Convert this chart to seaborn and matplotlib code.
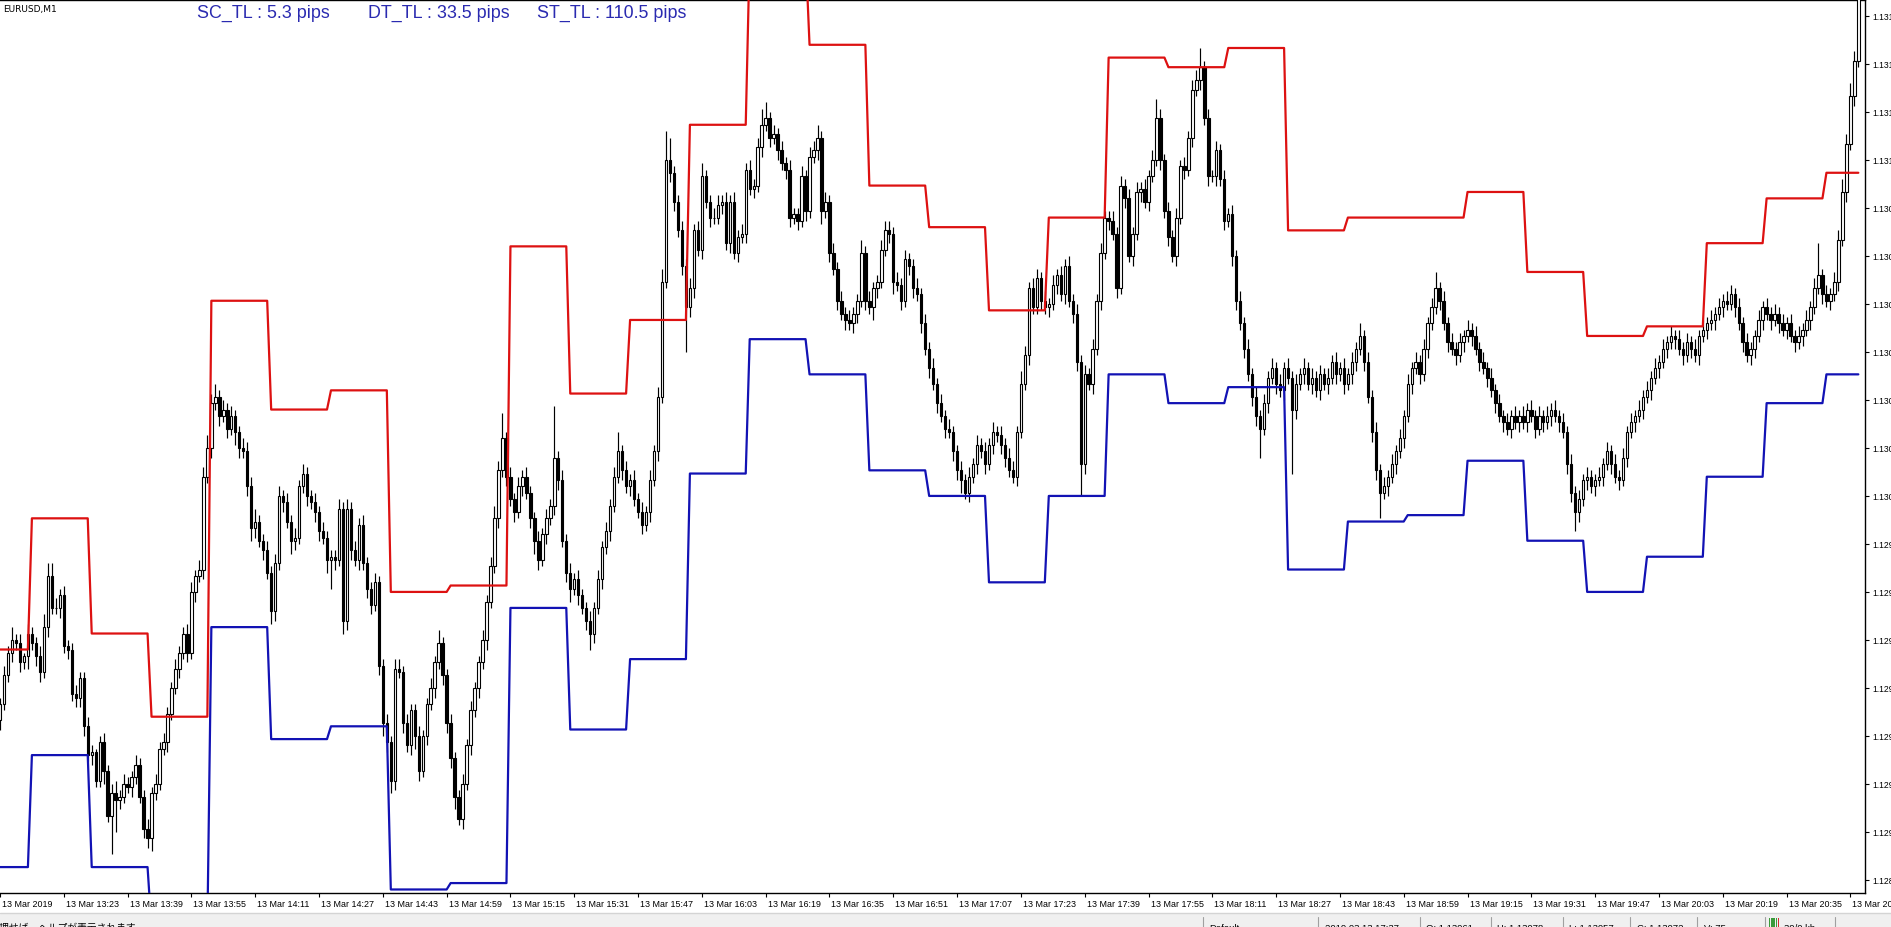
import numpy as np
import pandas as pd
import matplotlib
matplotlib.use("Agg")
import matplotlib.pyplot as plt
import seaborn as sns
from matplotlib.patches import Rectangle
from matplotlib.lines import Line2D
from matplotlib.transforms import ScaledTranslation

W, H = 1891, 928

# EURUSD M1, 13 Mar 2019 from 13:07, one candle per minute
# prices kept in points above base (1 point = 0.00001)
base = 1.12800
first_open = 135
close_pts = [
    140, 149, 156, 160, 159, 153, 155, 162, 159, 155, 150, 164, 180, 170, 170, 174, 158, 157, 143, 142,
    148, 133, 124, 125, 116, 128, 119, 105, 112, 110, 111, 115, 114, 117, 121, 111, 101, 98, 112, 115,
    126, 128, 137, 145, 151, 156, 162, 156, 175, 180, 182, 211, 220, 234, 236, 230, 232, 226, 230, 225,
    220, 219, 208, 195, 197, 191, 188, 181, 169, 184, 205, 203, 197, 191, 192, 208, 212, 205, 203, 200,
    194, 192, 185, 186, 185, 201, 166, 201, 188, 185, 196, 184, 176, 171, 178, 152, 134, 128, 116, 151,
    150, 134, 127, 138, 130, 119, 130, 140, 145, 153, 159, 149, 134, 123, 111, 104, 115, 127, 138, 145,
    153, 160, 172, 183, 198, 213, 223, 211, 204, 200, 208, 211, 206, 198, 191, 185, 193, 198, 202, 217,
    210, 191, 181, 176, 179, 174, 170, 166, 162, 170, 179, 189, 194, 202, 211, 219, 213, 208, 210, 204,
    200, 196, 200, 210, 219, 236, 272, 310, 306, 297, 288, 277, 264, 270, 288, 282, 305, 297, 292, 292,
    296, 297, 284, 297, 281, 286, 287, 307, 301, 302, 314, 321, 323, 317, 318, 313, 309, 307, 292, 293,
    291, 305, 294, 311, 313, 317, 294, 297, 281, 276, 266, 262, 260, 259, 262, 266, 281, 266, 264, 270,
    272, 282, 288, 287, 272, 271, 266, 279, 277, 270, 268, 259, 251, 245, 240, 234, 230, 226, 225, 219,
    213, 210, 206, 211, 215, 221, 219, 215, 221, 225, 224, 221, 217, 213, 211, 225, 240, 249, 270, 264,
    273, 266, 264, 265, 271, 274, 268, 277, 266, 262, 247, 215, 243, 240, 251, 266, 281, 292, 291, 287,
    270, 302, 298, 280, 287, 300, 301, 297, 305, 310, 323, 310, 294, 286, 280, 292, 308, 307, 317, 332,
    335, 339, 323, 305, 305, 313, 304, 291, 293, 280, 266, 259, 251, 243, 236, 230, 226, 234, 242, 245,
    240, 238, 245, 242, 232, 240, 243, 245, 240, 242, 238, 243, 240, 242, 247, 243, 245, 240, 243, 247,
    251, 255, 247, 236, 225, 213, 206, 208, 211, 215, 219, 223, 230, 240, 245, 247, 243, 251, 259, 264,
    270, 266, 259, 253, 251, 249, 253, 255, 257, 255, 251, 247, 245, 242, 238, 234, 230, 228, 226, 230,
    228, 230, 228, 232, 230, 226, 230, 228, 230, 232, 230, 228, 225, 215, 206, 200, 204, 210, 211, 208,
    210, 211, 215, 219, 215, 211, 210, 217, 225, 228, 230, 232, 236, 238, 242, 245, 247, 251, 253, 255,
    254, 251, 249, 253, 251, 249, 255, 257, 259, 260, 262, 264, 266, 265, 268, 264, 259, 253, 249, 251,
    255, 260, 264, 262, 260, 262, 259, 257, 259, 255, 253, 255, 257, 260, 264, 270, 274, 268, 266, 268,
    272, 285, 300, 315, 330, 341, 362,
]
wick_up = [
    2, 3, 2, 4, 2, 3, 1, 3, 2, 2, 3, 4, 4, 4, 3, 2, 3, 2, 2, 3,
    2, 2, 3, 2, 1, 2, 3, 2, 3, 4, 2, 3, 2, 2, 3, 2, 2, 3, 2, 3,
    2, 3, 2, 2, 3, 2, 2, 3, 3, 2, 3, 3, 4, 3, 4, 2, 3, 2, 3, 2,
    2, 3, 3, 3, 4, 2, 2, 3, 2, 3, 3, 2, 3, 2, 3, 2, 3, 2, 2, 3,
    2, 3, 2, 2, 2, 3, 2, 3, 2, 3, 2, 3, 2, 2, 3, 2, 2, 3, 2, 3,
    3, 2, 3, 2, 2, 3, 2, 2, 3, 2, 4, 2, 2, 3, 2, 2, 3, 2, 3, 2,
    2, 3, 2, 3, 4, 3, 8, 2, 3, 2, 3, 2, 3, 2, 2, 3, 2, 3, 2, 16,
    2, 3, 2, 3, 2, 3, 2, 2, 3, 2, 3, 2, 3, 2, 3, 6, 2, 3, 2, 3,
    2, 3, 2, 3, 2, 3, 4, 9, 7, 2, 2, 3, 2, 3, 2, 3, 4, 2, 2, 3,
    3, 2, 3, 2, 3, 2, 3, 2, 3, 2, 3, 5, 5, 2, 3, 2, 3, 2, 3, 2,
    2, 3, 2, 3, 3, 4, 2, 3, 2, 3, 2, 3, 2, 3, 2, 2, 4, 2, 3, 2,
    2, 3, 3, 3, 2, 3, 2, 3, 2, 2, 3, 2, 3, 2, 3, 2, 3, 2, 3, 2,
    2, 3, 2, 3, 2, 3, 2, 3, 2, 3, 2, 3, 2, 3, 3, 2, 4, 3, 2, 3,
    3, 2, 3, 2, 3, 2, 3, 2, 3, 2, 3, 2, 3, 2, 3, 2, 3, 2, 2, 3,
    2, 3, 2, 3, 2, 3, 2, 3, 2, 3, 6, 3, 2, 3, 2, 3, 2, 3, 2, 3,
    3, 6, 2, 3, 2, 3, 2, 3, 2, 3, 2, 3, 2, 3, 2, 3, 2, 3, 2, 3,
    2, 3, 2, 3, 2, 3, 2, 3, 2, 3, 2, 3, 2, 3, 2, 3, 2, 3, 2, 3,
    2, 4, 2, 3, 2, 3, 2, 3, 2, 3, 2, 3, 2, 3, 2, 3, 2, 3, 2, 3,
    5, 2, 3, 2, 3, 2, 3, 2, 3, 2, 3, 2, 3, 2, 3, 2, 3, 2, 3, 2,
    3, 2, 3, 2, 3, 2, 3, 2, 3, 2, 3, 2, 3, 2, 3, 2, 3, 2, 3, 2,
    2, 3, 2, 3, 2, 3, 2, 3, 2, 3, 2, 3, 2, 3, 2, 3, 2, 3, 2, 3,
    2, 3, 2, 3, 2, 3, 2, 3, 2, 3, 2, 3, 2, 3, 3, 2, 3, 2, 3, 2,
    2, 3, 2, 3, 2, 3, 2, 3, 2, 3, 2, 3, 2, 3, 2, 3, 10, 2, 3, 2,
    3, 3, 4, 3, 4, 3, 10,
]
wick_dn = [
    3, 2, 2, 3, 2, 3, 2, 4, 2, 3, 3, 2, 3, 2, 2, 3, 2, 3, 2, 3,
    3, 3, 2, 3, 2, 2, 4, 2, 12, 10, 3, 2, 2, 3, 2, 2, 3, 3, 4, 2,
    2, 2, 3, 2, 2, 3, 2, 3, 2, 3, 2, 3, 2, 3, 2, 3, 2, 3, 2, 4,
    3, 2, 3, 4, 3, 2, 3, 2, 4, 3, 2, 3, 2, 4, 3, 2, 2, 3, 2, 3,
    3, 2, 4, 9, 3, 2, 4, 3, 3, 2, 3, 2, 3, 3, 2, 3, 4, 3, 4, 3,
    2, 3, 2, 3, 4, 3, 2, 3, 2, 3, 2, 3, 3, 3, 4, 2, 3, 2, 3, 2,
    3, 2, 3, 2, 2, 3, 2, 3, 2, 3, 2, 3, 2, 3, 4, 3, 2, 3, 2, 3,
    3, 2, 3, 4, 2, 3, 2, 3, 5, 3, 2, 3, 2, 3, 2, 2, 3, 2, 3, 2,
    2, 3, 2, 3, 2, 3, 2, 2, 3, 3, 2, 3, 14, 3, 3, 2, 3, 2, 3, 2,
    2, 3, 2, 3, 2, 3, 2, 3, 2, 3, 2, 3, 2, 3, 2, 3, 2, 3, 3, 2,
    3, 2, 3, 2, 2, 3, 4, 2, 3, 2, 3, 2, 3, 2, 3, 3, 2, 3, 2, 4,
    3, 2, 2, 3, 4, 2, 3, 2, 3, 3, 2, 3, 2, 3, 2, 3, 2, 3, 2, 3,
    3, 4, 2, 3, 2, 3, 2, 3, 2, 3, 2, 3, 3, 2, 2, 3, 2, 2, 3, 2,
    2, 3, 2, 3, 2, 3, 2, 3, 2, 3, 3, 10, 3, 2, 3, 2, 3, 2, 3, 2,
    3, 2, 3, 2, 3, 2, 3, 2, 3, 2, 2, 3, 2, 3, 2, 3, 2, 3, 2, 3,
    2, 3, 2, 3, 2, 3, 2, 3, 2, 3, 3, 2, 3, 2, 3, 3, 9, 2, 3, 2,
    3, 2, 3, 2, 20, 3, 2, 3, 2, 3, 2, 3, 2, 3, 2, 3, 2, 3, 2, 3,
    3, 2, 3, 2, 3, 3, 8, 2, 3, 2, 3, 2, 3, 2, 3, 2, 3, 2, 3, 2,
    2, 3, 2, 3, 2, 3, 2, 3, 2, 3, 2, 3, 2, 3, 2, 3, 2, 3, 2, 3,
    2, 3, 2, 3, 2, 3, 2, 3, 2, 3, 2, 3, 2, 3, 3, 6, 3, 2, 3, 2,
    3, 2, 3, 2, 3, 2, 3, 2, 3, 2, 3, 2, 3, 2, 3, 2, 3, 2, 3, 2,
    3, 2, 3, 2, 3, 2, 3, 2, 3, 2, 3, 2, 3, 2, 2, 3, 2, 3, 2, 3,
    3, 2, 3, 2, 3, 2, 3, 2, 3, 2, 3, 2, 3, 2, 3, 2, 2, 3, 2, 3,
    2, 3, 2, 3, 2, 3, 2,
]

# upper (red) and lower (blue) channel levels, one per quarter-hour block
# block 0 = 13:07-13:14, block k = the k-th quarter hour from 13:15
red_levels = [157, 198, 162, 136, 266, 232, 238, 175, 177, 283, 237, 260, 321, 375, 346, 302,
              289, 263, 292, 342, 339, 345, 288, 292, 292, 300, 275, 255, 258, 284, 298, 306]
blue_levels = [89, 124, 89, 70, 164, 129, 133, 82, 84, 170, 132, 154, 212, 254, 243, 213,
               205, 178, 205, 243, 234, 239, 182, 197, 199, 216, 191, 175, 186, 211, 234, 243]

time_labels = ["13 Mar 2019", "13 Mar 13:23", "13 Mar 13:39", "13 Mar 13:55", "13 Mar 14:11",
               "13 Mar 14:27", "13 Mar 14:43", "13 Mar 14:59", "13 Mar 15:15", "13 Mar 15:31",
               "13 Mar 15:47", "13 Mar 16:03", "13 Mar 16:19", "13 Mar 16:35", "13 Mar 16:51",
               "13 Mar 17:07", "13 Mar 17:23", "13 Mar 17:39", "13 Mar 17:55", "13 Mar 18:11",
               "13 Mar 18:27", "13 Mar 18:43", "13 Mar 18:59", "13 Mar 19:15", "13 Mar 19:31",
               "13 Mar 19:47", "13 Mar 20:03", "13 Mar 20:19", "13 Mar 20:35", "13 Mar 20:51"]
price_ticks = [1.13155, 1.13140, 1.13125, 1.13110, 1.13095, 1.13080, 1.13065, 1.13050,
               1.13035, 1.13020, 1.13005, 1.12990, 1.12975, 1.12960, 1.12945, 1.12930,
               1.12915, 1.12900, 1.12885]

indicator_labels = ["SC_TL : 5.3 pips", "DT_TL : 33.5 pips", "ST_TL : 110.5 pips"]
status_items = ["Default", "2019.03.13 17:37", "O: 1.13061", "H: 1.13078",
                "L: 1.13057", "C: 1.13072", "V: 75", "39/0 kb"]
status_help = "F1キーを押せば、ヘルプが表示されます"

# ---- build the frame
n = len(close_pts)
df = pd.DataFrame({"minute": np.arange(n)})
df["close"] = base + np.array(close_pts) / 1e5
df["open"] = base + np.array([first_open] + close_pts[:-1]) / 1e5
top = np.maximum(df["open"], df["close"])
bot = np.minimum(df["open"], df["close"])
df["high"] = top + np.array(wick_up) / 1e5
df["low"] = bot - np.array(wick_dn) / 1e5
block = np.where(df["minute"] < 8, 0, (df["minute"] - 8) // 15 + 1)
df["red"] = base + np.array(red_levels)[block] / 1e5
df["blue"] = base + np.array(blue_levels)[block] / 1e5

sns.set_theme(style="white")
plt.rcParams["font.family"] = ["Liberation Sans", "DejaVu Sans"]

fig = plt.figure(figsize=(W / 100, H / 100), dpi=100)
fig.patch.set_facecolor("white")
ax = fig.add_axes([0, 34 / H, 1865 / W, 893 / H])
ax.set_facecolor("white")

# candles: wicks then bodies
ax.vlines(df["minute"], df["low"], df["high"], color="black", linewidth=0.85, zorder=2)
faces = np.where(df["close"] > df["open"], "white", "black")
ax.bar(df["minute"], top - bot, bottom=bot, width=0.6, color=faces,
       edgecolor="black", linewidth=0.8, zorder=3)

sns.lineplot(data=df, x="minute", y="red", color="#dd1111", linewidth=1.6,
             ax=ax, legend=False, zorder=4)
sns.lineplot(data=df, x="minute", y="blue", color="#1212b4", linewidth=1.6,
             ax=ax, legend=False, zorder=4)

ax.set_xlim(0.376, 467.67)
ax.set_ylim(1.128809, 1.131600)
ax.set_xlabel("")
ax.set_ylabel("")

for side in ["top", "right", "bottom"]:
    ax.spines[side].set_visible(True)
    ax.spines[side].set_color("black")
    ax.spines[side].set_linewidth(1.0)
ax.spines["left"].set_visible(False)

ax.yaxis.tick_right()
ax.set_yticks(price_ticks)
ax.set_yticklabels([f"{v:.5f}" for v in price_ticks])
ax.set_xticks(range(0, 465, 16))
ax.set_xticklabels(time_labels)
ax.tick_params(axis="y", direction="out", length=3, width=0.8, pad=2,
               labelsize=6.2, colors="black", right=True, left=False)
ax.tick_params(axis="x", direction="out", length=3, width=0.8, pad=1.5,
               labelsize=6.4, colors="black", bottom=True)
shift = ScaledTranslation(2 / 100, 0, fig.dpi_scale_trans)
for lab in ax.get_xticklabels():
    lab.set_horizontalalignment("left")
    lab.set_transform(lab.get_transform() + shift)
ax.grid(False)

# header texts
fig.text(3 / W, 1 - 12 / H, "EURUSD,M1", fontsize=6.5, color="black",
         va="baseline", family=["DejaVu Sans"])
for label, x0 in zip(indicator_labels, [197, 368, 537]):
    fig.text(x0 / W, 1 - 17.5 / H, label, fontsize=12.9, color="#2a2ab0",
             va="baseline", family=["Liberation Sans", "DejaVu Sans"])

# status bar
fig.add_artist(Rectangle((0, 0), 1, 14 / H, transform=fig.transFigure,
                         facecolor="#f0f0f0", edgecolor="none", zorder=0))
fig.add_artist(Line2D([0, 1], [14.5 / H, 14.5 / H], transform=fig.transFigure,
                      color="#d4d4d4", linewidth=1))
for xs in [1203, 1318, 1420, 1491, 1563, 1630, 1697, 1765, 1835]:
    fig.add_artist(Line2D([xs / W, xs / W], [0, 10 / H], transform=fig.transFigure,
                          color="#a0a0a0", linewidth=0.8))
for label, x0 in zip(status_items, [1209, 1325, 1426, 1497, 1569, 1637, 1704, 1784]):
    fig.text(x0 / W, -3 / H, label, fontsize=6.8, color="black", va="baseline")
fig.text(136 / W, -3 / H, status_help, fontsize=7, color="black", va="baseline",
         ha="right", family=["Noto Sans CJK JP", "DejaVu Sans"])
for k, col in enumerate(["#3a9a3a", "#3a9a3a", "#3a9a3a", "#3a9a3a", "#d03030"]):
    fig.add_artist(Rectangle(((1769 + 2.2 * k) / W, 0), 1.4 / W, 9 / H,
                             transform=fig.transFigure, facecolor=col, edgecolor="none"))

fig.savefig("out.png", dpi=100, facecolor="white")
